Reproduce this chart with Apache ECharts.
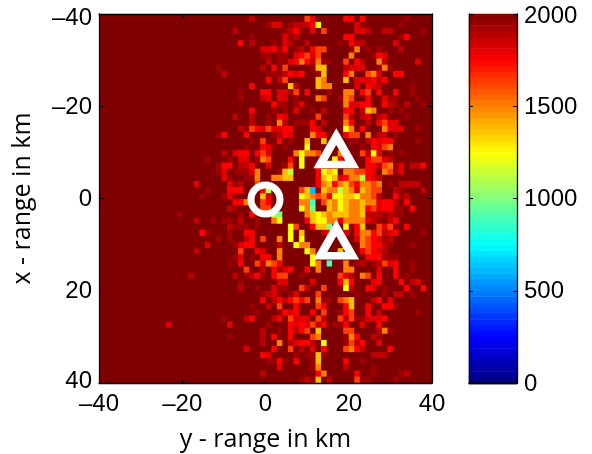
<!DOCTYPE html>
<html>
<head>
<meta charset="utf-8">
<style>html,body{margin:0;padding:0;background:#fff}#c{width:592px;height:454px}</style>
<script src="https://cdn.jsdelivr.net/npm/echarts@6/dist/echarts.min.js"></script>
</head>
<body>
<div id="c"></div>
<script>
// Level letters; each letter is one colour level of the jet scale.
const levelValues = {'.':2000,a:1940,b:1875,c:1810,d:1750,e:1625,f:1500,g:1375,h:1250,i:1125,j:1000,k:875,l:625};
const tickLabels = [-40,-20,0,20,40];
const colorbarTicks = [0,500,1000,1500,2000];
const circleSites = [[0,0.2]];
const triangleSites = [[17,-10.4],[17,9.4]];
// sparse cells in columns 0..19: [row, column, letter]
const farLeftCells = [[23,19,'a'],[27,17,'c'],[28,19,'a'],[29,18,'a'],[32,14,'a'],[33,17,'b'],[35,18,'d'],[35,19,'a'],[37,19,'c'],[38,17,'b'],[42,16,'b'],[50,12,'c']];
// columns 20..39, one string per row
const middleRows = [
".......b.........ec.",
"..........acc.abbbdh",
"....b........abda.c.",
".......a.....cab....",
".....d.b...a.cb..b..",
".........ccdad.ab.de",
".........aa.aa.cdece",
"..........b.aacdfdbf",
".a.......b.d.e....ag",
"..b.......aaabdcd..a",
"..........d.be.....g",
".......d......gb...g",
".....a...dd.ccae.d..",
".....a...bc.cc.a...f",
"...........daa.ac...",
".......d...a.a.c..a.",
"....b..b..a.dc.....e",
".......b..a.fb.aaad.",
".....baedceccdd...dc",
".ad...d....abdc...fd",
".......a.e..d.a..g..",
"......a..dca.a...h..",
"..b.cdd.dec....fhffe",
"...a.cc.afe...d.h...",
".add.bbd..c..ae.h..d",
".ac.aaacf...agi....d",
"..ca..aaf..ffgg....d",
"...cab..e..........d",
"...ddd...di.....egla",
"..aca....gc.....hgfe",
"....ddf..ed.....ffk.",
"...ba....ee.....hfj.",
".....a.d...ij....fgh",
"a.aa.b..a..fh....dgh",
"...baaa.a.....he..dg",
"...a..dd......h.g...",
".a.a..bd.e..f.h.h...",
"....acdd....b..hff..",
".....e..dc..f....hf.",
"....ac.a.dd.f.....h.",
"...a.d..ebfed.....hf",
"......e..b.dacd..d.f",
"....b.abda.dee..a...",
".....a......cc....c.",
".....b..a..caa..eb..",
".........abca.ac...e",
".........d.bdbdede.f",
".......a..b.e..d...e",
"........a...adcd..d.",
"..a...bd...bd.eccc.e",
"...c......a...dcdceb",
".........b..a.dbde.g",
"...a.....b.d..d...ef",
".........b..f.bcddb.",
"......c....d..e.b.c.",
".........dc....a.aag",
"..........aada.d..ag",
"............c.....af",
".........b.........d",
"................abag"
];
// columns 40..59, one string per row
const rightRows = [
"....dd.d.......a....",
"......ca......a.....",
"e.....ccb..bb.....a.",
"....dd........ad....",
"...a.dbb.....c......",
"e....af.a.a...b.....",
".....f...adc........",
"aa..e.db..fb.....c..",
"g...bccc..afa.......",
"g...df..efc..dd.....",
"f...g.cccdbd........",
"ff....c.dcb.....a...",
".a..ff.de.d..d..a...",
"e..afe..d..caa...a..",
"....fccdd..dba.b..a.",
"b...dd.bgf..a.a.....",
"....eb.bc.bc...a....",
"b...fd..b.decc......",
"....hf.d...fccc..a..",
"d...dee.f.bb.a......",
"g....aa.bdcdd....a..",
".......a.dcef.......",
"...f...ebhc.a.a.....",
"..hd....deecb.......",
"........ddbefac.bbd.",
"hgh.ffeedc.feac.....",
"ghgcdffidcb.........",
"fgdfgedffef.a.bbbb..",
"gffigfcgfee..ba...b.",
"fdhhgghffeb..dab....",
"egfhgffgffcddb.d....",
".gfhgffgdecddaa.d...",
"gfgggffgbbbabaa.....",
"hffcffffcba.bd......",
"gj..hadg..ecea.d....",
"bd..c.dffdebcd....a.",
"......cfedcab.......",
".......feddba...a...",
"...g...dedcb........",
"........dddaaa......",
".k..f.ab.abecd..a...",
"....ff....c..d..a...",
"...ecb.fe.d..d.a....",
"...dgd...cd...d.bc..",
"e...hb..dc.a...d..d.",
"......a....a.bb.a...",
"aa.efg...bd.c.......",
"d...dg..d..dda......",
"e..ade..d.b......a..",
"b..ebeaacccd........",
"d.aad..c..d.........",
"....ee....bfa.......",
"....afd..ba.........",
"h...aebd..c.........",
"d...efdb....d.......",
"a........bbb........",
"....d..a............",
"....b....a..........",
"f.....d..a....ab....",
".b....eaa....a......"
];

const jet = ['#00007f','#0000ff','#0080ff','#00ffff','#80ff80','#ffff00','#ff8000','#ff0000','#7f0000'];
const fontTick = 'Liberation Sans';
const fontName = 'Open Sans';

const cells = [];
const idx = [...Array(60).keys()];
for (const r of idx) {
  const line = '.'.repeat(20) + (middleRows[r] + '.'.repeat(20)).slice(0,20) + (rightRows[r] + '.'.repeat(20)).slice(0,20);
  for (const c of idx) cells.push([c, r, levelValues[line[c]] ?? 2000]);
}
for (const [r,c,k] of farLeftCells) cells[r*60+c][2] = levelValues[k];
const barCells = [...Array(64).keys()].map(i => [0, i, (i+0.5)*2000/64]);

const dash = v => String(v).replace('-', '\u2013');
const lineStyle = {color:'#000', width:1.3};
const tick = {show:true, inside:true, length:4, lineStyle:{color:'#000', width:1}};
const hiddenCat = (data, extra) => Object.assign({type:'category', data, show:false, boundaryGap:true}, extra);
const valAxis = (extra) => Object.assign({
  type:'value', min:-40, max:40, interval:20, gridIndex:0, z:5,
  axisLine:{show:true, onZero:false, lineStyle}, axisTick:tick, splitLine:{show:false},
  axisLabel:{show:false}
}, extra);
const labelStyle = {show:true, color:'#000', fontFamily:fontTick, fontSize:24, formatter:dash};
const richBase = {fontFamily:fontTick, fontSize:24, color:'#000'};
const rich = {
  n:Object.assign({padding:[2,0,0,0]}, richBase),
  t:Object.assign({padding:[8,0,0,0]}, richBase),
  u:Object.assign({padding:[4,0,0,0]}, richBase),
  b:Object.assign({padding:[0,0,4,0]}, richBase)
};

const chart = echarts.init(document.getElementById('c'), null, {renderer:'canvas'});
chart.setOption({
  animation:false,
  backgroundColor:'#fff',
  grid:[
    {left:99, top:14, width:333, height:369, show:true, backgroundColor:'#7f0000', borderWidth:0, outerBoundsMode:'none'},
    {left:469, top:14, width:48, height:369, outerBoundsMode:'none'},
    {left:100, top:16, width:332, height:367, outerBoundsMode:'none'}
  ],
  visualMap:{show:false, type:'continuous', min:0, max:2000, seriesIndex:[0,1], inRange:{color:jet}},
  xAxis:[
    hiddenCat(idx, {gridIndex:2}),
    valAxis({position:'bottom', axisLabel:Object.assign({}, labelStyle, {margin:9}),
      name:'y - range in km', nameLocation:'middle', nameGap:44,
      nameTextStyle:{fontFamily:fontName, fontSize:25, color:'#000'}}),
    valAxis({position:'top'}),
    {type:'category', data:[''], gridIndex:1, position:'bottom', z:5, axisLine:{show:true, lineStyle}, axisTick:{show:false}, axisLabel:{show:false}},
    {type:'category', data:[''], gridIndex:1, position:'top', z:5, axisLine:{show:true, lineStyle}, axisTick:{show:false}, axisLabel:{show:false}}
  ],
  yAxis:[
    hiddenCat(idx, {gridIndex:2, inverse:true}),
    valAxis({position:'left', inverse:true, axisLabel:Object.assign({}, labelStyle, {margin:7,
        formatter:v => '{' + (v === -40 ? 't' : v === 40 ? 'b' : 'n') + '|' + dash(v) + '}',
        rich}),
      name:'x - range in km', nameLocation:'middle', nameGap:64, nameRotate:90,
      nameTextStyle:{fontFamily:fontName, fontSize:25, color:'#000'}}),
    valAxis({position:'right', inverse:true}),
    hiddenCat(barCells.map(d=>d[1]), {gridIndex:1}),
    {type:'value', gridIndex:1, min:0, max:2000, interval:500, position:'right', z:5,
      axisLine:{show:true, onZero:false, lineStyle}, axisTick:tick, splitLine:{show:false},
      axisLabel:{color:'#000', fontFamily:fontTick, fontSize:24, margin:7, rich,
        formatter:v => '{' + (v === 2000 ? 'u' : 'n') + '|' + v + '}'}},
    {type:'value', gridIndex:1, min:0, max:2000, interval:500, position:'left', z:5,
      axisLine:{show:true, onZero:false, lineStyle}, axisTick:tick, splitLine:{show:false}, axisLabel:{show:false}}
  ],
  series:[
    {type:'heatmap', xAxisIndex:0, yAxisIndex:0, data:cells, progressive:0, emphasis:{disabled:true}, itemStyle:{borderWidth:0}},
    {type:'heatmap', xAxisIndex:3, yAxisIndex:3, data:barCells, progressive:0, emphasis:{disabled:true}, itemStyle:{borderWidth:0}},
    {type:'scatter', xAxisIndex:1, yAxisIndex:1, data:circleSites, symbol:'circle', symbolSize:29, z:10, silent:true,
      itemStyle:{color:'rgba(0,0,0,0)', borderColor:'#fff', borderWidth:7, opacity:1}},
    {type:'scatter', xAxisIndex:1, yAxisIndex:1, data:triangleSites, symbol:'triangle', symbolSize:[32,28], z:10, silent:true,
      itemStyle:{color:'rgba(0,0,0,0)', borderColor:'#fff', borderWidth:8, borderJoin:'miter', borderMiterLimit:10, opacity:1}}
  ]
});
</script>
</body>
</html>
